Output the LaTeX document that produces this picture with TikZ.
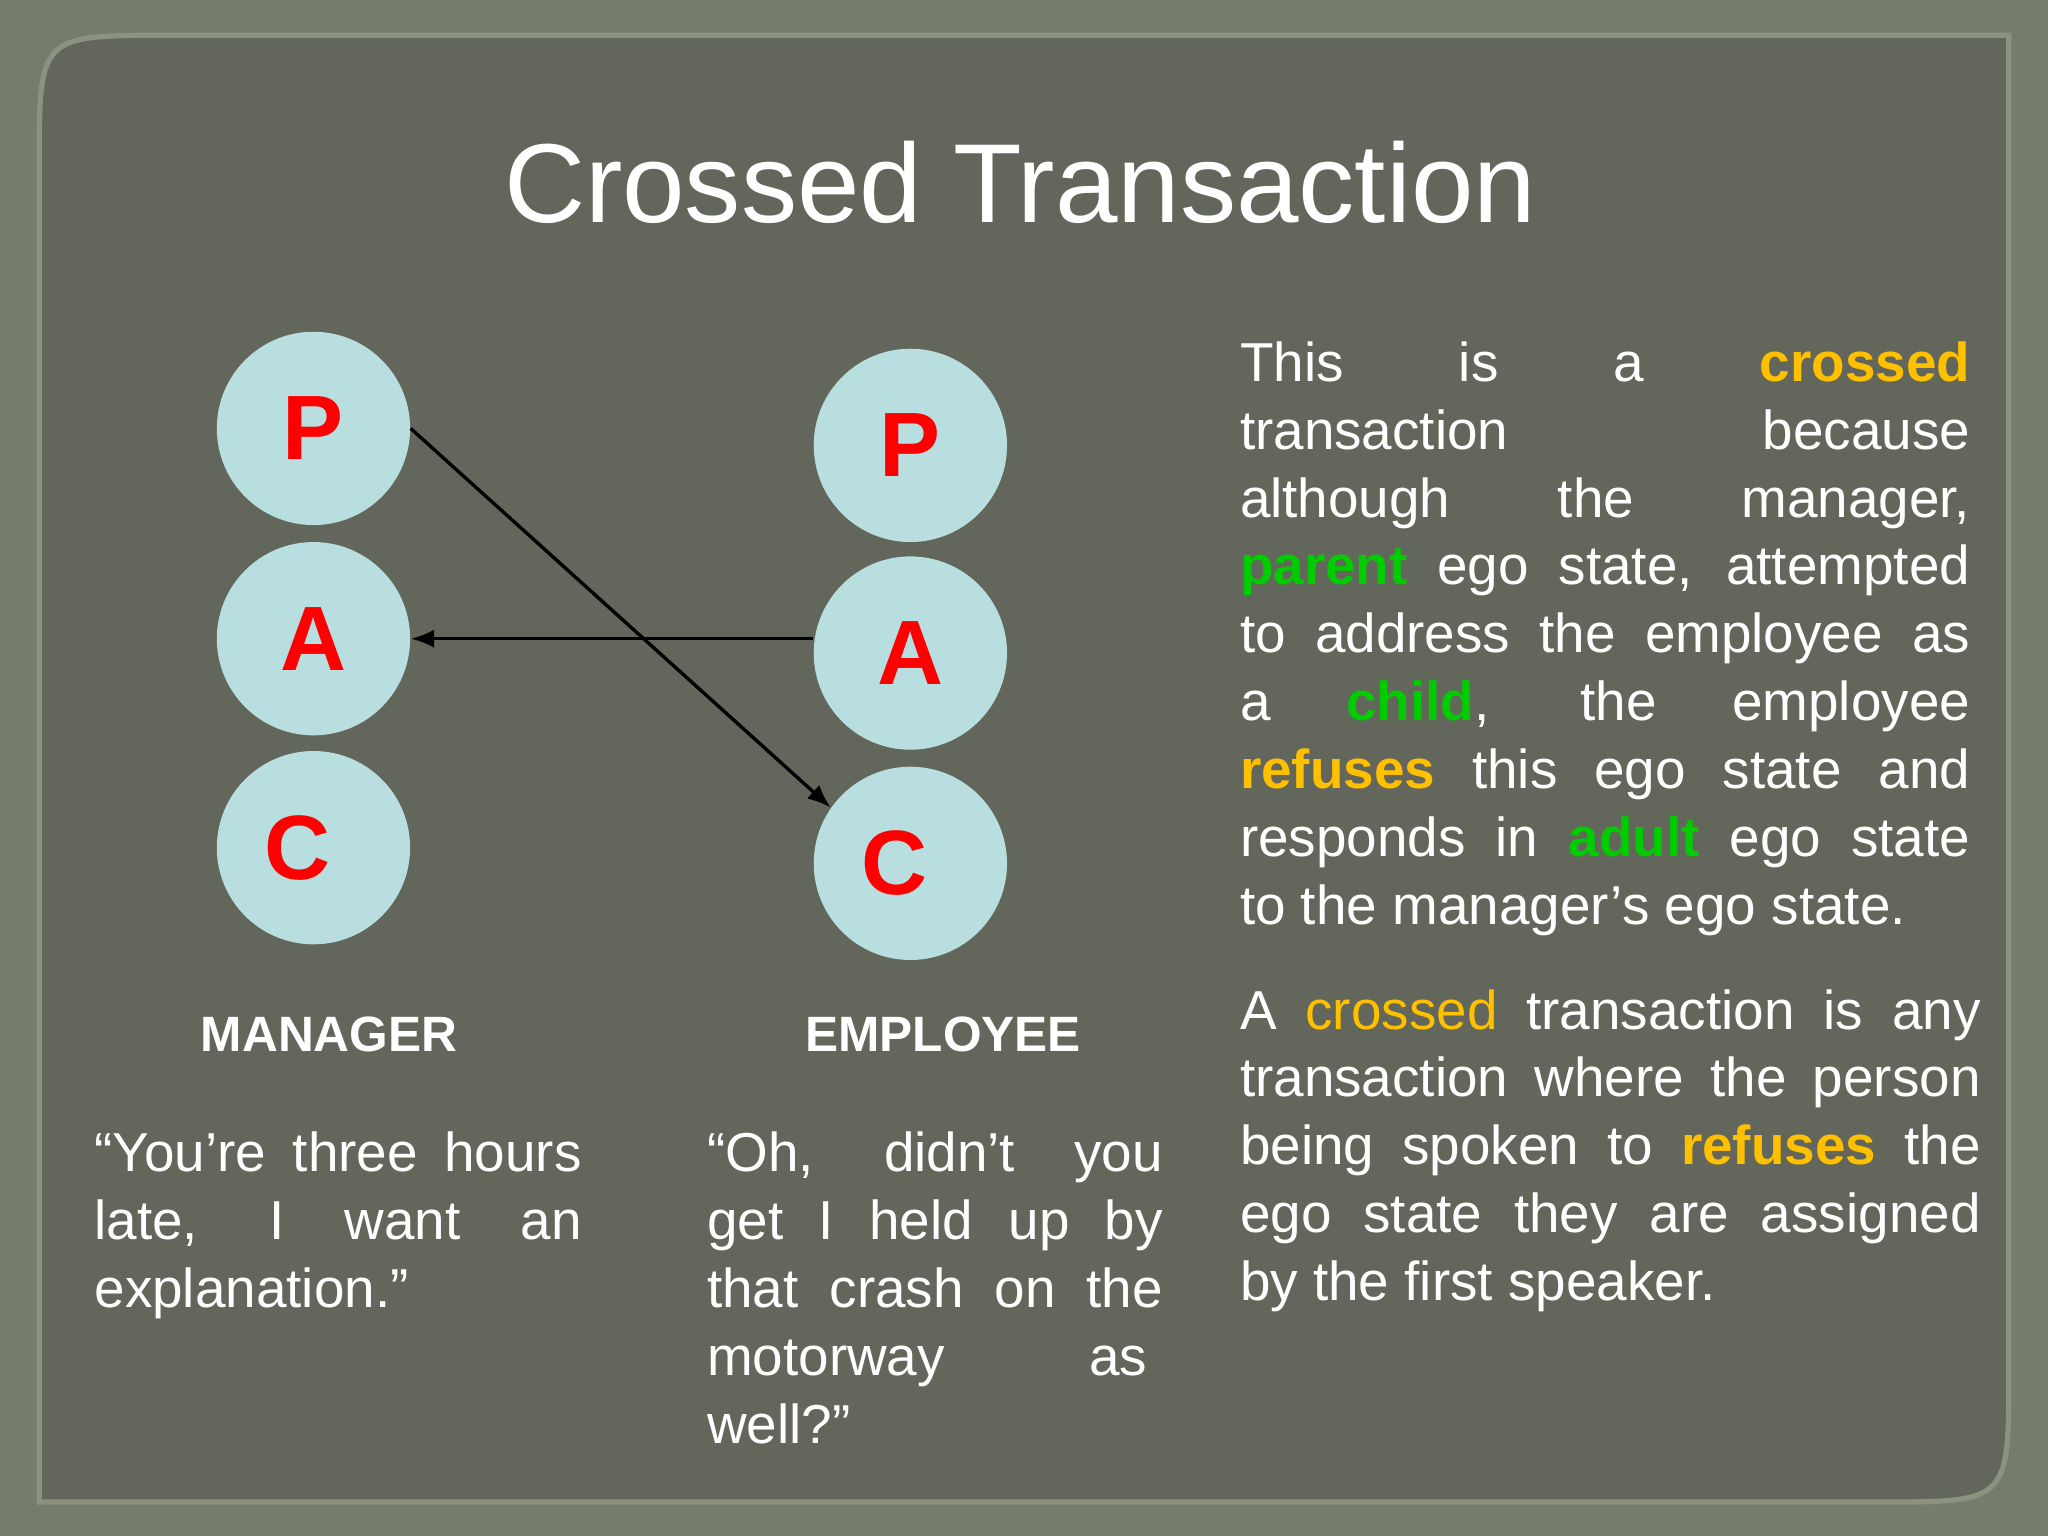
\documentclass[tikz,border=0pt]{standalone}
\usepackage{fontspec}
\setmainfont{Liberation Sans}
\usetikzlibrary{arrows.meta}
\definecolor{outerbg}{RGB}{118,124,108}
\definecolor{panelbg}{RGB}{99,102,90}
\definecolor{rim}{RGB}{140,146,128}
\definecolor{circ}{RGB}{185,222,224}
\definecolor{ora}{RGB}{255,192,0}
\definecolor{grn}{RGB}{0,204,0}
\newcommand{\hlo}[1]{\textcolor{ora}{\bfseries #1}}
\newcommand{\hlg}[1]{\textcolor{grn}{\bfseries #1}}
\begin{document}
\begin{tikzpicture}[x=0.5pt,y=-0.5pt,
  ego/.style={circle,fill=circ,minimum size=74pt,inner sep=0pt,text=red,font=\fontsize{35}{40}\selectfont\bfseries},
  role/.style={text=white,font=\fontsize{19}{22}\selectfont\bfseries},
  body/.style={text=white,anchor=north west,inner sep=0pt,align=justify,font=\fontsize{21}{26}\selectfont},
  arr/.style={-{Latex[length=9pt,width=7pt]},line width=1.3pt,black}]
\useasboundingbox (0,0) rectangle (1568,1176);
\fill[outerbg] (0,0) rectangle (1568,1176);
\fill[panelbg,draw=rim,line width=2pt] (30,1150) -- (30,127) .. controls (30,27) .. (130,27) -- (1538,27) -- (1538,1050) .. controls (1538,1150) .. (1438,1150) -- cycle;
\node[text=white,font=\fontsize{43}{48}\selectfont] (title) at (781,140) {Crossed Transaction};
\node[ego] (mP) at (240,328) {P};
\node[ego] (mA) at (240,489) {A};
\node[ego] (mC) at (240,649) {\hspace*{-12pt}C};
\node[ego] (eP) at (697,341) {P};
\node[ego] (eA) at (697,500) {A};
\node[ego] (eC) at (697,661) {\hspace*{-12pt}C};
\draw[arr] (mP.east) -- (eC.145);
\coordinate (aS) at (eA.west |- mA.east);
\draw[arr] (aS) -- (mA.east);
\node[role] (mL) at (252,792) {MANAGER};
\node[role] (eL) at (722,792) {EMPLOYEE};
\node[body,text width=186.5pt] (mQ) at (72,866) {“You’re three hours\linebreak late, I want an\linebreak explanation.”};
\node[body,text width=174.5pt] (eQ) at (541,866) {“Oh, didn’t you\linebreak get I held up by\linebreak that crash on the\linebreak motorway \hfill as\hspace*{6pt}\linebreak well?”};
\node[body,text width=279.5pt] (p1) at (949,261) {This is a \hlo{crossed}\linebreak transaction because\linebreak although the manager,\linebreak \hlg{parent} ego state, attempted\linebreak to address the employee as\linebreak a \hlg{child}, the employee\linebreak \hlo{refuses} this ego state and\linebreak responds in \hlg{adult} ego state\linebreak to the manager’s ego state.};
\node[body,text width=283.5pt] (p2) at (949,757) {A \textcolor{ora}{crossed} transaction is any\linebreak transaction where the person\linebreak being spoken to \hlo{refuses} the\linebreak ego state they are assigned\linebreak by the first speaker.};
\end{tikzpicture}
\end{document}
